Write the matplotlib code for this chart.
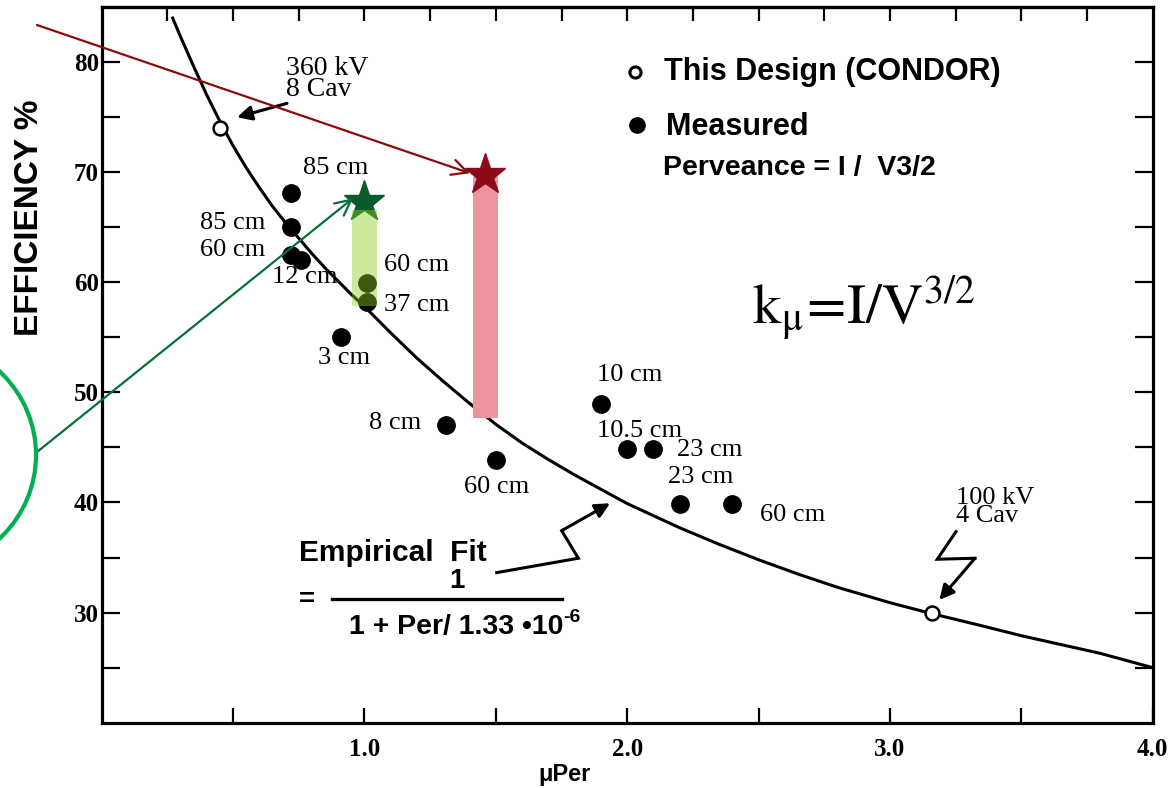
import matplotlib
matplotlib.use("Agg")
import matplotlib.pyplot as plt
from matplotlib.patches import Circle
import numpy as np

plt.rcParams['mathtext.fontset'] = 'stix'

# ---------------- data ----------------
curve_x = [0.27, 0.30, 0.35, 0.40, 0.45, 0.50, 0.55, 0.60, 0.65, 0.70, 0.75, 0.80, 0.85,
           0.90, 0.95, 1.00, 1.10, 1.20, 1.30, 1.40, 1.50, 1.60, 1.70, 1.80, 1.90, 2.00,
           2.10, 2.20, 2.35, 2.50, 2.65, 2.80, 3.00, 3.16, 3.35, 3.50, 3.65, 3.80, 4.00]
curve_y = [84.0, 82.3, 79.6, 77.0, 74.6, 72.4, 70.4, 68.6, 66.9, 65.4, 64.0, 62.6, 61.3,
           60.1, 58.9, 57.8, 55.4, 53.1, 51.0, 49.0, 47.1, 45.4, 43.9, 42.5, 41.2, 39.9,
           38.8, 37.7, 36.2, 34.8, 33.5, 32.3, 30.9, 29.9, 28.8, 27.9, 27.1, 26.3, 25.0]

measured_x = [0.72, 0.72, 0.72, 0.76, 1.01, 1.01, 0.91, 1.31, 1.50, 1.90, 2.00, 2.10, 2.20, 2.40]
measured_y = [68.1, 65.0, 62.5, 62.0, 59.9, 58.2, 55.0, 47.0, 43.9, 48.9, 44.9, 44.9, 39.9, 39.9]

design_x = [0.45, 3.16]
design_y = [74.0, 30.0]

point_labels = ["85 cm", "85 cm", "60 cm", "12 cm", "60 cm", "37 cm", "3 cm", "8 cm",
                "60 cm", "10 cm", "10.5 cm", "23 cm", "23 cm", "60 cm"]

star_x = [1.00, 1.46]
star_y = [67.3, 69.7]
bar_bottom = [57.8, 47.7]
bar_top = [66.6, 69.6]

x_ticks = [0.5, 1.0, 1.5, 2.0, 2.5, 3.0, 3.5, 4.0]
x_ticklabels = ["", "1.0", "", "2.0", "", "3.0", "", "4.0"]
y_ticks = [25, 30, 35, 40, 45, 50, 55, 60, 65, 70, 75, 80]
y_ticklabels = ["", "30", "", "40", "", "50", "", "60", "", "70", "", "80"]

# ---------------- figure ----------------
W, H = 1172, 788
fig = plt.figure(figsize=(W / 100, H / 100), dpi=100)
ax = fig.add_axes([101.7 / W, 1 - 722.7 / H, 1051 / W, 715.7 / H])
ax.set_xlim(0, 4.0)
ax.set_ylim(20, 85)

def px(xp, yp):
    """convert reference pixel position to data coords"""
    return ((xp - 101.7) / 262.75, 80 - (yp - 61.7) / 11.02)

for s in ax.spines.values():
    s.set_linewidth(2.3)

serif = 'Liberation Serif'
sans = 'Liberation Sans'

ax.set_xticks(x_ticks)
ax.set_xticklabels(x_ticklabels, fontfamily=serif, fontweight='bold', fontsize=18)
ax.set_yticks(y_ticks)
ax.set_yticklabels(y_ticklabels, fontfamily=serif, fontweight='bold', fontsize=18)
ax.tick_params(axis='x', direction='in', length=11, width=1.6, pad=11, top=False)
ax.tick_params(axis='y', direction='in', length=13, width=1.6, pad=2, right=True)

sec = ax.secondary_xaxis('top')
sec.set_xticks(np.arange(0.25, 4.0, 0.25))
sec.set_xticklabels([])
sec.tick_params(direction='in', length=10, width=1.6)
sec.spines['top'].set_linewidth(2.3)

# curve
ax.plot(curve_x, curve_y, color='black', lw=2.2, zorder=3, clip_on=False,
        solid_joinstyle='round')

# points
ax.plot(measured_x, measured_y, 'o', ms=12.5, color='black', zorder=4)
ax.plot(design_x, design_y, 'o', ms=10, mfc='white', mec='black', mew=1.8, zorder=4)

# point labels (pixel centres from reference)
label_pos = [(336, 168), (233, 223), (233, 250), (305, 277), (417, 265), (417, 305),
             (344, 358), (395, 423), (497, 487), (630, 375), (640, 431), (710, 450),
             (701, 477), (793, 515)]
for txt, (xp, yp) in zip(point_labels, label_pos):
    ax.text(*px(xp, yp), txt, fontfamily=serif, fontsize=19, ha='center', va='center', zorder=5)

ax.text(*px(286, 79), "360 kV\n8 Cav", fontfamily=serif, fontsize=20, ha='left', va='center',
        linespacing=0.78)
ax.text(*px(956, 507), "100 kV\n4 Cav", fontfamily=serif, fontsize=19, ha='left', va='center',
        linespacing=0.78)

arrow_k = dict(arrowstyle='-|>', color='black', lw=2.2, mutation_scale=22, shrinkA=0, shrinkB=0)
ax.annotate("", xy=px(237, 117), xytext=px(287, 103), arrowprops=arrow_k)

# zig-zag arrows
z1 = [px(496.7, 572.7), px(578.3, 558.3), px(561.7, 530.7)]
ax.plot([p[0] for p in z1], [p[1] for p in z1], color='black', lw=2.2, solid_joinstyle='miter')
ax.annotate("", xy=px(610, 503.3), xytext=z1[-1], arrowprops=arrow_k)
z2 = [px(956, 531.7), px(937.3, 559.3), px(975, 558.3)]
ax.plot([p[0] for p in z2], [p[1] for p in z2], color='black', lw=2.2, solid_joinstyle='miter')
ax.annotate("", xy=px(939.3, 600), xytext=z2[-1], arrowprops=arrow_k)

# legend (drawn as in the reference)
ax.plot(*px(635, 72), 'o', ms=8, mfc='white', mec='black', mew=2.2)
ax.plot(*px(637, 125), 'o', ms=11, color='black')
ax.text(*px(664, 72), "This Design (CONDOR)", fontfamily=sans, fontweight='bold', fontsize=22,
        ha='left', va='center')
ax.text(*px(666, 127), "Measured", fontfamily=sans, fontweight='bold', fontsize=22,
        ha='left', va='center')
ax.text(*px(663, 168), "Perveance = I /  V3/2", fontfamily=sans, fontweight='bold', fontsize=20.5,
        ha='left', va='center')

# empirical fit formula
ax.text(*px(299, 553), "Empirical  Fit", fontfamily=sans, fontweight='bold', fontsize=21.5,
        ha='left', va='center')
ax.text(*px(299, 600), "=", fontfamily=sans, fontweight='bold', fontsize=20, ha='left', va='center')
fl = [px(332, 599), px(562, 599)]
ax.plot([fl[0][0], fl[1][0]], [fl[0][1], fl[1][1]], color='black', lw=2.4)
ax.text(*px(457, 581), "1", fontfamily=sans, fontweight='bold', fontsize=20, ha='center', va='center')
den = ax.text(*px(349, 627), "1 + Per/ 1.33 \u202210", fontfamily=sans,
              fontweight='bold', fontsize=20.5, ha='left', va='center')
ax.annotate("-6", xy=(1.0, 0.55), xycoords=den, fontfamily=sans, fontweight='bold',
            fontsize=14, ha='left', va='bottom')

# k_mu formula
ax.text(*px(752, 308), r"$\mathrm{k}_{\mathrm{\mu}}\!=\!\mathrm{I/V}^{3/2}$", fontsize=41,
        ha='left', va='center')

# axis labels
fig.text(30 / W, 1 - 218 / H, "EFFICIENCY %", rotation=90, fontfamily=sans, fontweight='bold',
         fontsize=24, ha='center', va='center')
fig.text(565 / W, 1 - 774 / H, "\u03bcPer", fontfamily=sans, fontweight='bold', fontsize=17,
         ha='center', va='center')

# ---------------- coloured overlay ----------------
ax.plot(star_x[0], star_y[0], marker='*', ms=31, color='#0b5a2c', zorder=6)
ax.plot(star_x[1], star_y[1], marker='*', ms=31, color='#8c0a1a', zorder=6)
ax.bar([star_x[0]], [bar_top[0] - bar_bottom[0]], bottom=[bar_bottom[0]], width=0.095,
       color='#8bcd24', alpha=0.44, zorder=7)
ax.bar([star_x[1]], [bar_top[1] - bar_bottom[1]], bottom=[bar_bottom[1]], width=0.095,
       color='#ef929f', zorder=5)

ax.annotate("", xy=px(470, 173), xycoords='data', xytext=(37, H - 25), textcoords='figure pixels',
            arrowprops=dict(arrowstyle='->', color='#8b0a0a', lw=1.6, mutation_scale=28,
                            shrinkA=0, shrinkB=0), zorder=8)
ax.annotate("", xy=px(353, 198), xycoords='data', xytext=(37, H - 452), textcoords='figure pixels',
            arrowprops=dict(arrowstyle='->', color='#0a6e3a', lw=1.6, mutation_scale=28,
                            shrinkA=0, shrinkB=0), zorder=8)

circ = Circle((-78 / 100, (H - 455) / 100), 114 / 100, transform=fig.dpi_scale_trans,
              fill=False, ec='#00b050', lw=3)
fig.add_artist(circ)

fig.savefig("out.png", dpi=100)
